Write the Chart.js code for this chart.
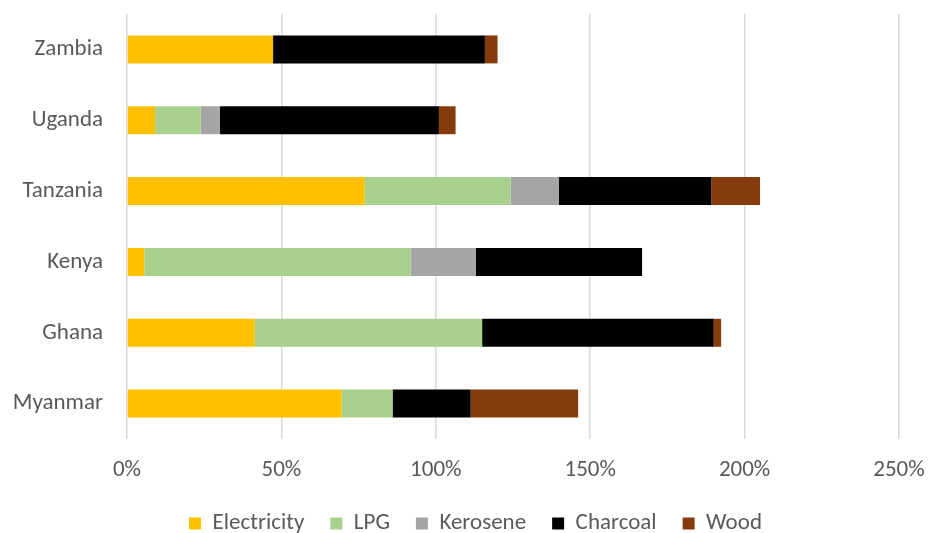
<!DOCTYPE html>
<html>
<head>
<meta charset="utf-8">
<script src="https://cdn.jsdelivr.net/npm/chart.js@4.4.1/dist/chart.umd.min.js"></script>
<style>
  html, body { margin: 0; padding: 0; background: #ffffff; overflow: hidden; }
  #wrap { width: 928px; height: 533px; }
</style>
</head>
<body>
<div id="wrap"><canvas id="fuelChart" width="928" height="533"></canvas></div>
<script>
// Countries, top to bottom
const countries = ['Zambia', 'Uganda', 'Tanzania', 'Kenya', 'Ghana', 'Myanmar'];

// Share of households per cooking fuel (%)
const electricity = [47.3, 9.1, 77.0, 5.6, 41.4, 69.5];
const lpg         = [0, 14.8, 47.2, 86.2, 73.6, 16.5];
const kerosene    = [0, 6.2, 15.7, 21.1, 0, 0];
const charcoal    = [68.6, 70.9, 49.3, 53.9, 75.0, 25.3];
const wood        = [4.1, 5.4, 15.8, 0, 2.4, 34.8];

const axisMin = 0;
const axisMax = 250;
const axisStep = 50;

const fontFamily = 'Carlito, Calibri, "Liberation Sans", Arial, sans-serif';
const textColor = '#595959';

const makeSet = (label, data, color) => ({
    label: label,
    data: data,
    backgroundColor: color,
    borderWidth: 0,
    barPercentage: 0.79,
    categoryPercentage: 0.5
});

// nudge the legend so it sits centred under the plot area instead of the canvas
const legendShift = {
    id: 'legendShift',
    afterLayout(chart) {
        const lg = chart.legend;
        if (!lg) return;
        lg.left += 26;
        lg.right += 26;
    }
};

const ctx = document.getElementById('fuelChart').getContext('2d');

new Chart(ctx, {
    type: 'bar',
    data: {
        labels: countries,
        datasets: [
            makeSet('Electricity', electricity, '#FFC000'),
            makeSet('LPG', lpg, '#A9D18E'),
            makeSet('Kerosene', kerosene, '#A5A5A5'),
            makeSet('Charcoal', charcoal, '#000000'),
            makeSet('Wood', wood, '#843C0C')
        ]
    },
    plugins: [legendShift],
    options: {
        indexAxis: 'y',
        responsive: false,
        animation: false,
        layout: {
            padding: { left: 0, right: 29, top: 14, bottom: -12 }
        },
        plugins: {
            legend: {
                position: 'bottom',
                labels: {
                    boxWidth: 12,
                    boxHeight: 12,
                    padding: 26,
                    color: textColor,
                    font: { family: fontFamily, size: 23 }
                }
            },
            tooltip: { enabled: false }
        },
        scales: {
            x: {
                stacked: true,
                min: axisMin,
                max: axisMax,
                ticks: {
                    stepSize: axisStep,
                    padding: 17,
                    color: textColor,
                    font: { family: fontFamily, size: 23 },
                    callback: (v) => v + '%'
                },
                grid: {
                    color: '#D9D9D9',
                    lineWidth: 1.5,
                    drawTicks: false
                },
                border: { display: false },
                afterFit: (scale) => {
                    scale.height = 47;
                    scale.paddingLeft = 0;
                    scale.paddingRight = 0;
                }
            },
            y: {
                stacked: true,
                ticks: {
                    padding: 24,
                    color: textColor,
                    font: { family: fontFamily, size: 23 }
                },
                grid: { display: false, drawTicks: false },
                border: { display: false },
                afterFit: (scale) => {
                    scale.width = 127;
                    scale.paddingTop = 0;
                    scale.paddingBottom = 0;
                }
            }
        }
    }
});
</script>
</body>
</html>
